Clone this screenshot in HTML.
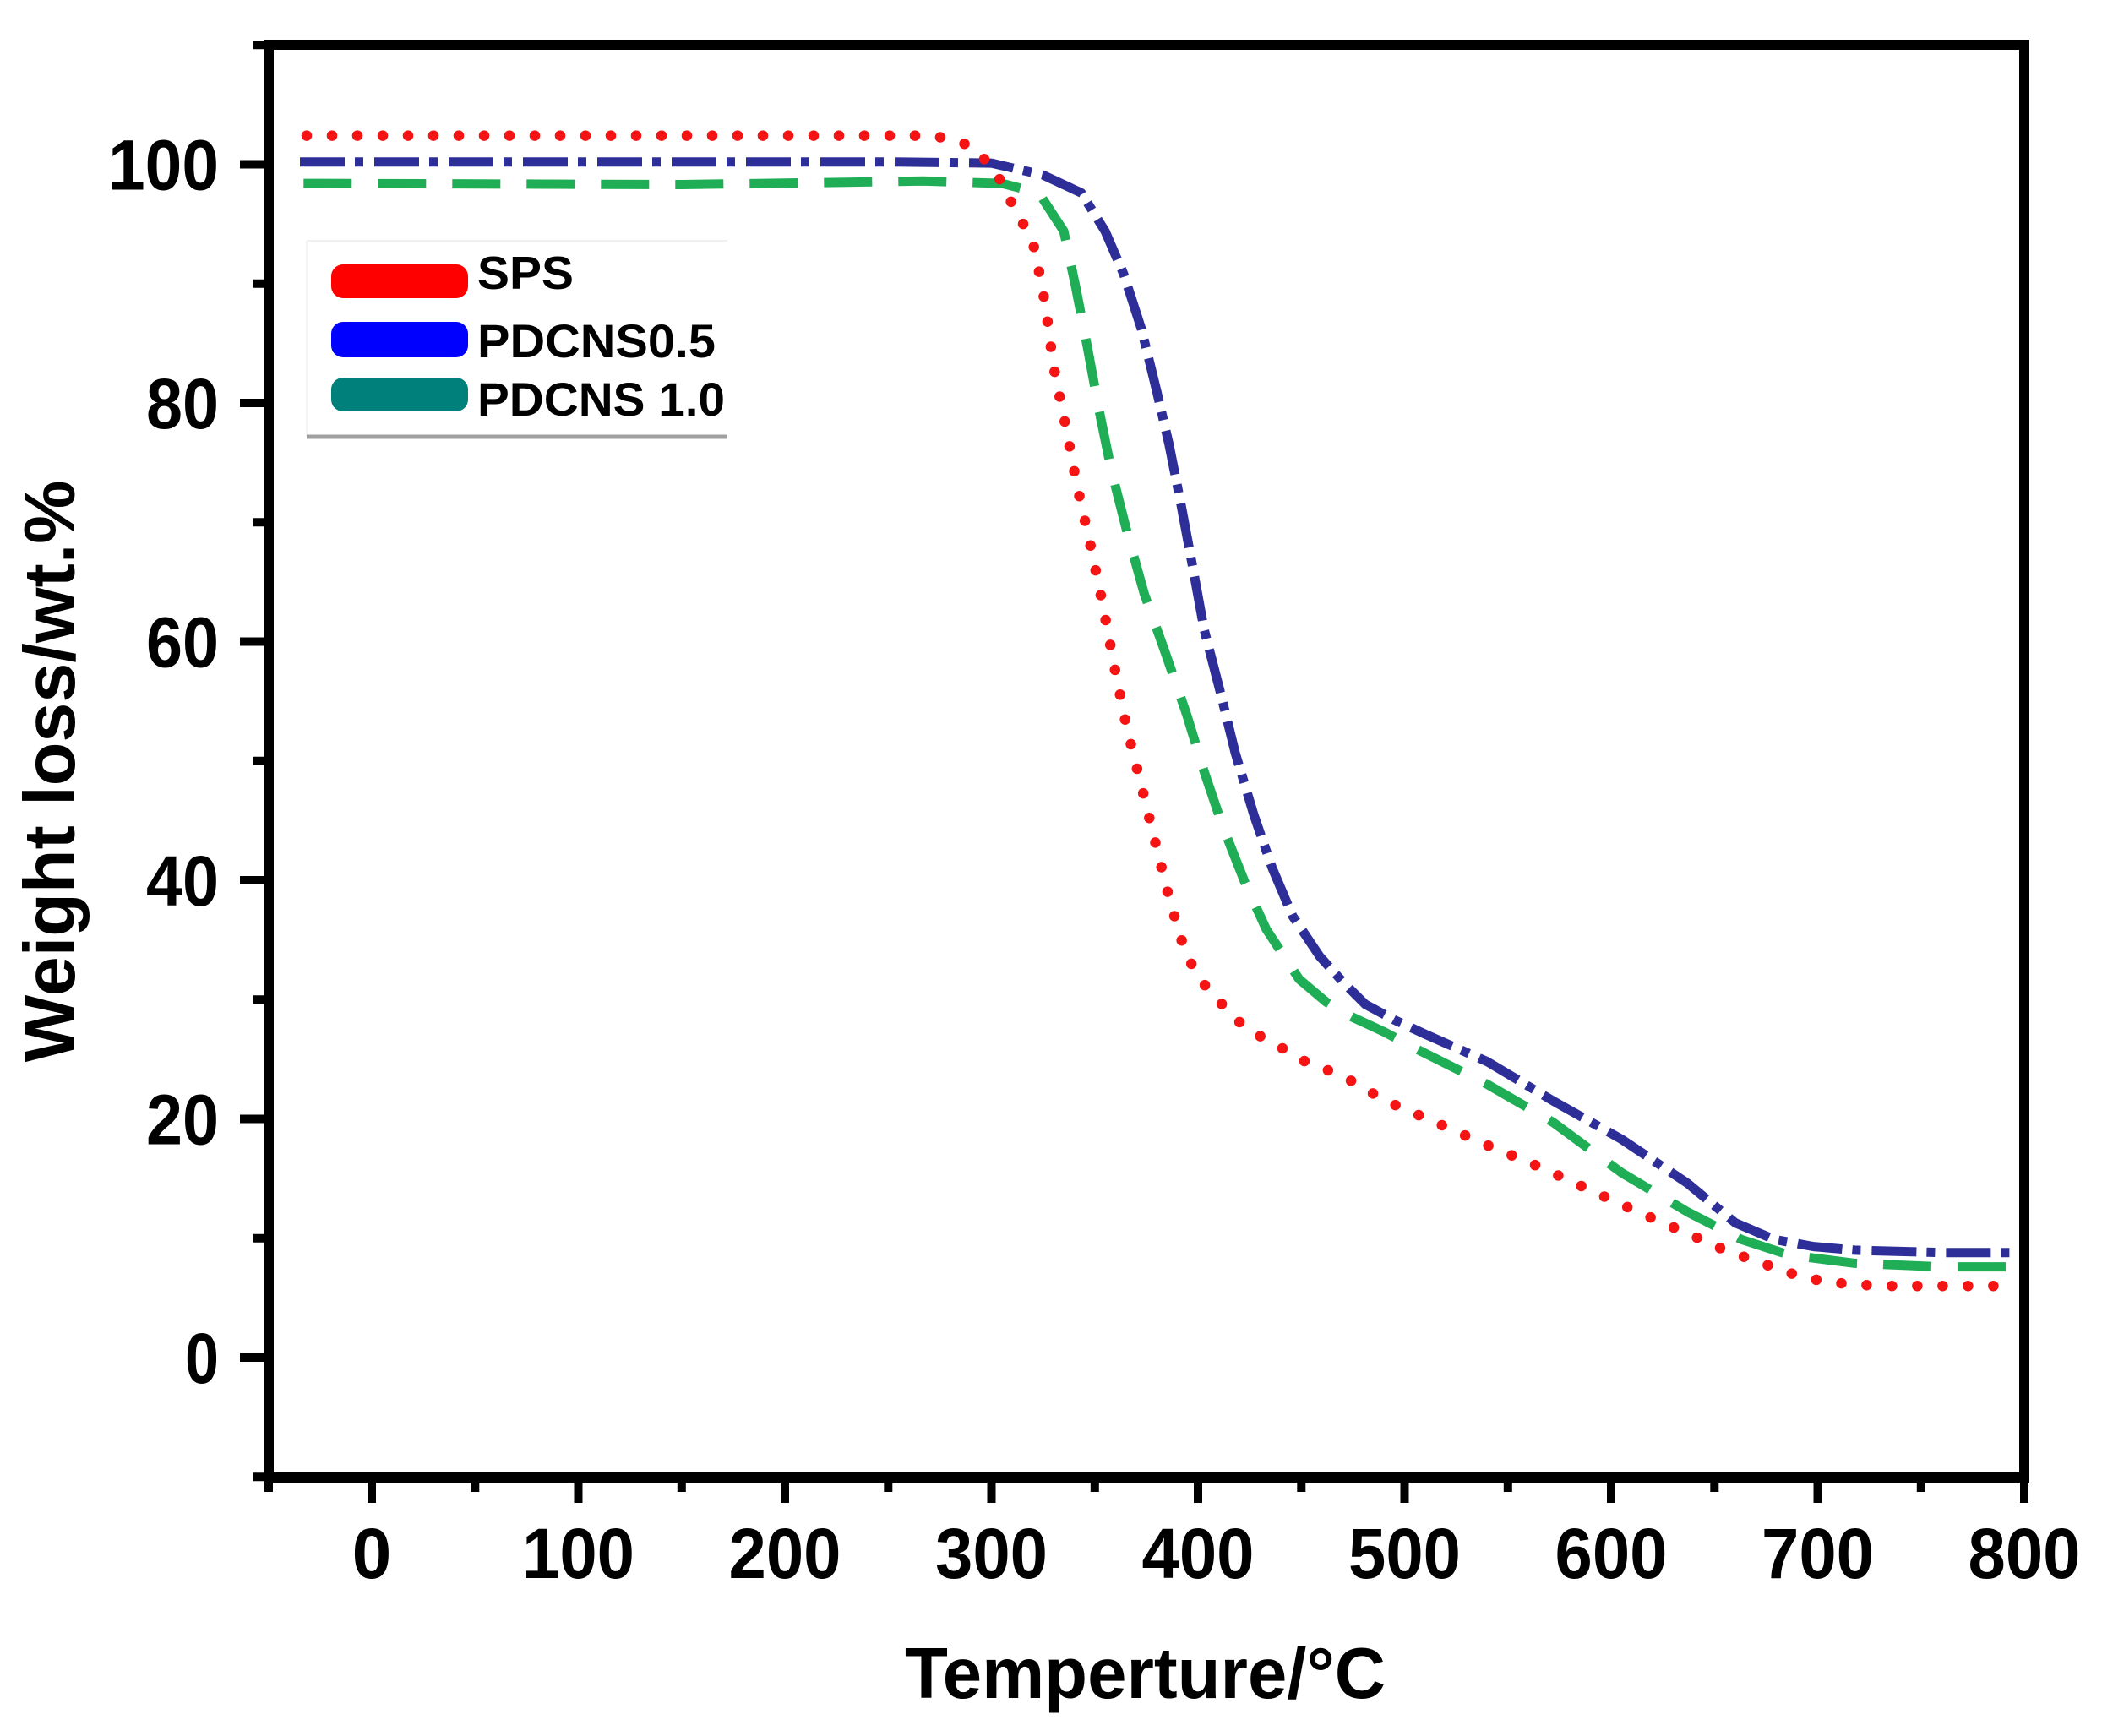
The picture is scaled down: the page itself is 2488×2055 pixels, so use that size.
<!DOCTYPE html>
<html>
<head>
<meta charset="utf-8">
<style>
html,body{margin:0;padding:0;background:#fff;}
svg{display:block;}
text{font-family:"Liberation Sans","DejaVu Sans",sans-serif;font-weight:bold;fill:#000;}
</style>
</head>
<body>
<svg width="2488" height="2055" viewBox="0 0 2488 2055" xmlns="http://www.w3.org/2000/svg">
<rect x="0" y="0" width="2488" height="2055" fill="#fff"/>

<!-- Legend -->
<line x1="363" y1="285" x2="861" y2="285" stroke="#f0f0f0" stroke-width="2"/>
<line x1="363" y1="285" x2="363" y2="517" stroke="#f4f4f4" stroke-width="2"/>
<line x1="363" y1="517" x2="861" y2="517" stroke="#a0a0a0" stroke-width="5"/>
<rect x="392" y="313" width="162" height="40" rx="14" fill="#ff0000"/>
<rect x="392" y="381" width="162" height="42" rx="14" fill="#0000ff"/>
<rect x="392" y="447" width="162" height="40" rx="14" fill="#00807a"/>
<text x="565" y="342" font-size="55" textLength="114" lengthAdjust="spacingAndGlyphs">SPS</text>
<text x="565" y="423" font-size="56" textLength="282" lengthAdjust="spacingAndGlyphs">PDCNS0.5</text>
<text x="565" y="492" font-size="56" textLength="293" lengthAdjust="spacingAndGlyphs">PDCNS 1.0</text>

<!-- Curves -->
<polyline fill="none" stroke="#1fae55" stroke-width="11" stroke-dasharray="57 31" stroke-linejoin="round"
points="359.3,217.1 806.8,218.5 1002.4,215.7 1092.8,214.3 1185.7,217.1 1229.7,228.4 1259.1,273.6 1273,338.6 1287,410.6 1300.6,484.1 1315.3,556.1 1333.9,629.5 1354.4,703 1380.1,775 1405,847.1 1425.3,913.5 1447.3,978.4 1473,1043.4 1498.7,1099.9 1537.8,1159.2 1569.6,1186.1 1601.4,1204.4 1638.1,1221.4 1681.1,1244 1760.3,1283.5 1838.5,1328.7 1919.2,1388.1 1997.5,1434.7 2061,1467.2 2117.3,1485.5 2195.5,1495.4 2298.2,1499.6 2388,1499.6"/>

<polyline fill="none" stroke="#2e2e99" stroke-width="11" stroke-dasharray="53 12 10 13" stroke-linejoin="round"
points="355,191.7 1051.3,191.7 1173.5,193.1 1234.6,207.2 1279.9,228.4 1308,273.6 1330,324.4 1351,389.4 1369.1,462.9 1383.8,526.4 1398.4,599.9 1412.1,673.3 1425.3,745.4 1443.9,817.4 1462,890.9 1484,964.3 1506,1027.9 1530,1084.4 1562.3,1132.4 1589.2,1162.1 1616,1188.9 1650.3,1207.3 1687,1224.2 1760.3,1256.7 1838.5,1303.3 1919.2,1348.5 1997.5,1400.8 2053.7,1447.4 2100.2,1467.2 2146.6,1475.6 2195.5,1479.9 2298.2,1482.7 2388,1482.7"/>

<polyline fill="none" stroke="#f51414" stroke-width="12.5" stroke-dasharray="0 30" stroke-linecap="round" stroke-linejoin="round"
points="363,160.6 929,160.6 1087.9,160.6 1124.6,163.4 1149.1,173.3 1168.6,191.7 1185.7,215.7 1200.4,246.8 1215.1,272.2 1224.8,294.8 1237.1,359.8 1246.9,433.2 1261.5,505.2 1275,575.9 1290.9,646.5 1305.5,717.1 1319,789.2 1333.9,862.6 1351,930.4 1369.1,1003.9 1383.8,1063.2 1398.4,1112.6 1413.1,1147.9 1430.2,1171.9 1454.7,1197.4 1474.2,1217.1 1515.8,1239.7 1545.1,1256.7 1589.2,1273.6 1640.5,1303.3 1699.2,1328.7 1760.3,1355.6 1821.4,1381 1880.1,1407.8 1938.8,1434.7 1997.5,1460.1 2041.5,1479.9 2078.2,1492.6 2117.3,1506.7 2156.4,1516.6 2195.5,1520.8 2237.1,1522.2 2386.2,1522.2"/>

<!-- Axes frame -->
<rect x="318" y="53" width="2078" height="1696" fill="none" stroke="#000" stroke-width="12"/>

<!-- Y major ticks -->
<g stroke="#000" stroke-width="10">
<line x1="284" y1="1607" x2="318" y2="1607"/>
<line x1="284" y1="1324.5" x2="318" y2="1324.5"/>
<line x1="284" y1="1042" x2="318" y2="1042"/>
<line x1="284" y1="759.5" x2="318" y2="759.5"/>
<line x1="284" y1="477" x2="318" y2="477"/>
<line x1="284" y1="194.5" x2="318" y2="194.5"/>
<!-- Y minor ticks -->
<line x1="300" y1="1748.3" x2="318" y2="1748.3"/>
<line x1="300" y1="1465.8" x2="318" y2="1465.8"/>
<line x1="300" y1="1183.3" x2="318" y2="1183.3"/>
<line x1="300" y1="900.8" x2="318" y2="900.8"/>
<line x1="300" y1="618.3" x2="318" y2="618.3"/>
<line x1="300" y1="335.8" x2="318" y2="335.8"/>
<line x1="300" y1="53.3" x2="318" y2="53.3"/>
<!-- X major ticks -->
<line x1="440" y1="1749" x2="440" y2="1779"/>
<line x1="684.5" y1="1749" x2="684.5" y2="1779"/>
<line x1="929" y1="1749" x2="929" y2="1779"/>
<line x1="1173.5" y1="1749" x2="1173.5" y2="1779"/>
<line x1="1418" y1="1749" x2="1418" y2="1779"/>
<line x1="1662.5" y1="1749" x2="1662.5" y2="1779"/>
<line x1="1907" y1="1749" x2="1907" y2="1779"/>
<line x1="2151.5" y1="1749" x2="2151.5" y2="1779"/>
<line x1="2396" y1="1749" x2="2396" y2="1779"/>
<!-- X minor ticks -->
<line x1="318" y1="1749" x2="318" y2="1766"/>
<line x1="562.3" y1="1749" x2="562.3" y2="1766"/>
<line x1="806.8" y1="1749" x2="806.8" y2="1766"/>
<line x1="1051.3" y1="1749" x2="1051.3" y2="1766"/>
<line x1="1295.8" y1="1749" x2="1295.8" y2="1766"/>
<line x1="1540.3" y1="1749" x2="1540.3" y2="1766"/>
<line x1="1784.8" y1="1749" x2="1784.8" y2="1766"/>
<line x1="2029.3" y1="1749" x2="2029.3" y2="1766"/>
<line x1="2273.8" y1="1749" x2="2273.8" y2="1766"/>
</g>

<!-- Y tick labels -->
<g font-size="84" text-anchor="end">
<text x="259" y="1637" textLength="40" lengthAdjust="spacingAndGlyphs">0</text>
<text x="259" y="1354.5" textLength="86" lengthAdjust="spacingAndGlyphs">20</text>
<text x="259" y="1072" textLength="86" lengthAdjust="spacingAndGlyphs">40</text>
<text x="259" y="789.5" textLength="86" lengthAdjust="spacingAndGlyphs">60</text>
<text x="259" y="507" textLength="86" lengthAdjust="spacingAndGlyphs">80</text>
<text x="259" y="224.5" textLength="131" lengthAdjust="spacingAndGlyphs">100</text>
</g>

<!-- X tick labels -->
<g font-size="84" text-anchor="middle">
<text x="440" y="1868">0</text>
<text x="684.5" y="1868" textLength="133" lengthAdjust="spacingAndGlyphs">100</text>
<text x="929" y="1868" textLength="133" lengthAdjust="spacingAndGlyphs">200</text>
<text x="1173.5" y="1868" textLength="133" lengthAdjust="spacingAndGlyphs">300</text>
<text x="1418" y="1868" textLength="133" lengthAdjust="spacingAndGlyphs">400</text>
<text x="1662.5" y="1868" textLength="133" lengthAdjust="spacingAndGlyphs">500</text>
<text x="1907" y="1868" textLength="133" lengthAdjust="spacingAndGlyphs">600</text>
<text x="2151.5" y="1868" textLength="133" lengthAdjust="spacingAndGlyphs">700</text>
<text x="2396" y="1868" textLength="133" lengthAdjust="spacingAndGlyphs">800</text>
</g>

<!-- Axis titles -->
<text x="1355.5" y="2010" font-size="85" text-anchor="middle" textLength="569" lengthAdjust="spacingAndGlyphs">Temperture/°C</text>
<text transform="translate(88,913) rotate(-90)" x="0" y="0" font-size="85" text-anchor="middle" textLength="689" lengthAdjust="spacingAndGlyphs">Weight loss/wt.%</text>
</svg>
</body>
</html>
